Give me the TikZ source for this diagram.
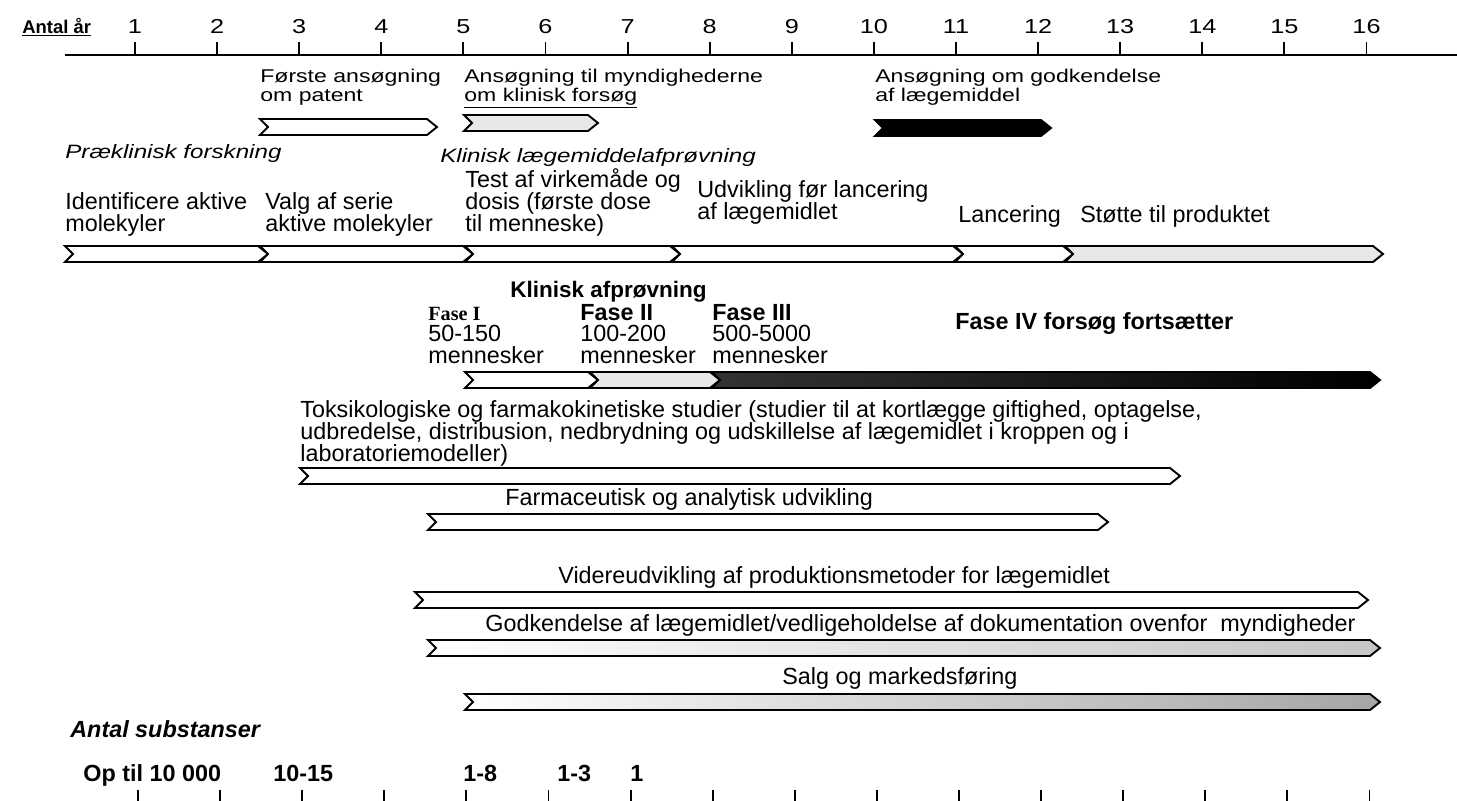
\documentclass[tikz,border=0pt]{standalone}
\usepackage{fontspec}
\setmainfont{Liberation Sans}
\newfontfamily\widefont[FakeStretch=1.25]{Liberation Sans}
\newfontfamily\timesfont{Liberation Serif}

% one stage bar: [fill style]{x start}{x tip}{y}
\newcommand{\stage}[4][blank]{%
  \draw[stage,#1] (#2,#4-8) -- (#3-10,#4-8) -- (#3,#4) -- (#3-10,#4+8)
    -- (#2,#4+8) -- (#2+8,#4) -- cycle;}

\begin{document}
\begin{tikzpicture}[x=0.02cm,y=-0.02cm,
    txt/.style={inner sep=0pt,anchor=base west,align=left,
      font=\fontsize{13.3}{12.5}\selectfont},
    head/.style={inner sep=0pt,anchor=base west,align=left,
      font=\widefont\fontsize{10.5}{10.8}\selectfont},
    yr/.style={inner sep=0pt,anchor=base,font=\widefont\fontsize{11.5}{11.5}\selectfont},
    stage/.style={draw,line width=1.1pt,line join=miter},
    blank/.style={fill=white},
    pale/.style={fill=gray!18},
    inked/.style={fill=black},
    deep/.style={left color=black!80,right color=black},
    fadegray/.style={left color=white,right color=gray!45},
    fadedark/.style={left color=white,right color=gray!70}]
  \useasboundingbox (0,0) rectangle (1457,801);

  % year axis
  \node[head,font=\fontsize{10.5}{10.5}\selectfont\bfseries] (ar) at (22,33) {\underline{Antal år}};
  \draw[line width=1.1pt] (65,55) -- (1457,55);
  \foreach \n in {1,...,16}{
    \draw[line width=1.1pt] (135+82.1*\n-82.1,42) -- (135+82.1*\n-82.1,55);
    \node[yr] (y\n) at (135+82.1*\n-82.1,33) {\n};
  }

  % applications
  \node[head] (patent) at (260,101) {Første ansøgning\\om patent};
  \node[head] (klin) at (464,101) {Ansøgning til myndighederne\\\underline{om klinisk forsøg}};
  \node[head] (godk) at (875,101) {Ansøgning om godkendelse\\af lægemiddel};
  \stage{260}{437}{127}
  \stage[pale]{464}{598}{123}
  \stage[inked]{875}{1051}{128}

  \node[head,font=\widefont\fontsize{11}{11}\selectfont\itshape] (prae) at (65,158) {Præklinisk forskning};
  \node[head,font=\widefont\fontsize{11}{11}\selectfont\itshape] (laeg) at (440,162) {Klinisk lægemiddelafprøvning};

  % research and development stages
  \node[txt] (ident) at (65,231) {Identificere aktive\\molekyler};
  \node[txt] (valg) at (265,231) {Valg af serie\\aktive molekyler};
  \node[txt] (test) at (465,231) {Test af virkemåde og\\dosis (første dose\\til menneske)};
  \node[txt] (udv) at (697,219) {Udvikling før lancering\\af lægemidlet};
  \node[txt] (lanc) at (958,222) {Lancering};
  \node[txt] (stot) at (1080,222) {Støtte til produktet};
  \stage{65}{268}{254}
  \stage{260}{473}{254}
  \stage{465}{680}{254}
  \stage{672}{963}{254}
  \stage{955}{1073}{254}
  \stage[pale]{1065}{1383}{254}

  % clinical phases
  \node[txt,font=\fontsize{12.8}{12.5}\selectfont\bfseries] (afpr) at (510,297) {Klinisk afprøvning};
  \node[txt,font=\fontsize{13.3}{12}\selectfont] (fase1) at (428,363) {{\timesfont\bfseries\fontsize{11.5}{12}\selectfont Fase I}\\50-150\\mennesker};
  \node[txt,font=\fontsize{13.3}{12}\selectfont] (fase2) at (580,363) {\textbf{Fase II}\\100-200\\mennesker};
  \node[txt,font=\fontsize{13.3}{12}\selectfont] (fase3) at (712,363) {\textbf{Fase III}\\500-5000\\mennesker};
  \node[txt,font=\fontsize{13.3}{12.5}\selectfont\bfseries] (fase4) at (955,329) {Fase IV forsøg fortsætter};
  \stage{465}{598}{380}
  \stage[pale]{590}{720}{380}
  \stage[deep]{712}{1380}{380}

  % parallel activities
  \node[txt] (tox) at (300,461) {Toksikologiske og farmakokinetiske studier (studier til at kortlægge giftighed, optagelse,\\udbredelse, distribusion, nedbrydning og udskillelse af lægemidlet i kroppen og i\\laboratoriemodeller)};
  \stage{300}{1180}{476}
  \node[txt] (farm) at (505,505) {Farmaceutisk og analytisk udvikling};
  \stage{428}{1108}{522}
  \node[txt] (prod) at (558,583) {Videreudvikling af produktionsmetoder for lægemidlet};
  \stage{415}{1368}{600}
  \node[txt] (dok) at (485,631) {Godkendelse af lægemidlet/vedligeholdelse af dokumentation ovenfor\ \ myndigheder};
  \stage[fadegray]{428}{1380}{648}
  \node[txt] (salg) at (782,684) {Salg og markedsføring};
  \stage[fadedark]{465}{1380}{702}

  % substances
  \node[txt,font=\fontsize{13.3}{12.5}\selectfont\bfseries\itshape] (subst) at (70,737) {Antal substanser};
  \node[txt,font=\fontsize{13.3}{12.5}\selectfont\bfseries] (s1) at (83,781) {Op til 10 000};
  \node[txt,font=\fontsize{13.3}{12.5}\selectfont\bfseries] (s2) at (273,781) {10-15};
  \node[txt,font=\fontsize{13.3}{12.5}\selectfont\bfseries] (s3) at (463,781) {1-8};
  \node[txt,font=\fontsize{13.3}{12.5}\selectfont\bfseries] (s4) at (557,781) {1-3};
  \node[txt,font=\fontsize{13.3}{12.5}\selectfont\bfseries] (s5) at (630,781) {1};
  \foreach \n in {0,...,15}
    \draw[line width=1.1pt] (138+82.1*\n,790) -- (138+82.1*\n,801);
\end{tikzpicture}
\end{document}
